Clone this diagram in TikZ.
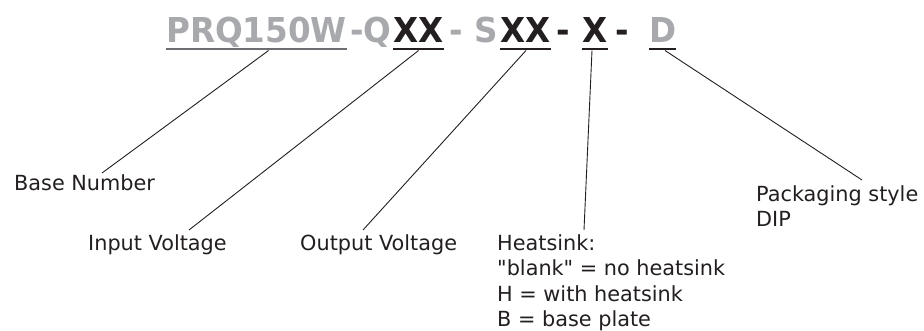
\documentclass[tikz,border=0pt]{standalone}
\usepackage{fontspec}
\setmainfont{DejaVu Sans}
\newfontfamily\headfont{DejaVu Sans}[FakeStretch=0.95]
\newcommand\straightdq{\XeTeXglyph\XeTeXglyphindex "quotedbl"\relax}
\definecolor{codegrey}{HTML}{A7A9AC}
\definecolor{codeblack}{HTML}{231F20}
\definecolor{ulgrey}{HTML}{6D6E71}
\begin{document}
\begin{tikzpicture}[x=1pt,y=-1pt,
  seg/.style={inner sep=0pt, anchor=base west, font=\headfont\bfseries\fontsize{34.3}{40}\selectfont},
  gr/.style={seg, text=codegrey},
  bk/.style={seg, text=codeblack},
  ul/.style={line width=2pt},
  lead/.style={line width=0.9pt, draw=codeblack},
  lab/.style={inner sep=0pt, font=\fontsize{20.8}{25.3}\selectfont, text=codeblack, align=left}]
\useasboundingbox[fill=white] (0,0) rectangle (924,331);
% part code
\node[gr] (pbase) at (166,43) {PRQ150W};
\node[gr] (pq) at (350,43) {-Q};
\node[bk] (pin) at (393,43) {XX};
\node[gr] (ps) at (449,43) {- S};
\node[bk] (pout) at (500,43) {XX};
\node[bk] (pd1) at (556,43) {-};
\node[bk] (pheat) at (582,43) {X};
\node[bk] (pd2) at (615,43) {-};
\node[gr] (ppack) at (649,43) {D};
% underlines
\draw[ul, ulgrey] ([yshift=-6.5pt]pbase.base west) -- ([yshift=-6.5pt]pbase.base east);
\draw[ul, codeblack] ([yshift=-6.5pt]pin.base west) -- ([yshift=-6.5pt]pin.base east);
\draw[ul, codeblack] ([yshift=-6.5pt]pout.base west) -- ([yshift=-6.5pt]pout.base east);
\draw[ul, codeblack] ([yshift=-6.5pt]pheat.base west) -- ([yshift=-6.5pt]pheat.base east);
\draw[ul, codeblack] ([yshift=-6.5pt]ppack.base west) -- ([yshift=-6.5pt]ppack.base east);
% labels
\node[lab, anchor=base west] (lbase) at (14,191) {Base Number};
\node[lab, anchor=base west] (lin) at (88,251) {Input Voltage};
\node[lab, anchor=base west] (lout) at (300,251) {Output Voltage};
\node[lab, anchor=north west] (lheat) at (497,234.5) {Heatsink:\\\straightdq blank\straightdq{} = no heatsink\\H = with heatsink\\B = base plate};
\node[lab, anchor=north west] (lpack) at (756,185.4) {Packaging style\\DIP};
% connector ends
\coordinate (sbase) at (268.6,50.5);
\coordinate (sin) at (418.6,50.5);
\coordinate (sout) at (526,50.5);
\coordinate (sheat) at (592,50.5);
\coordinate (spack) at (665,50.5);
\coordinate (ebase) at (102,173);
\coordinate (ein) at (189,230);
\coordinate (eout) at (363,230);
\coordinate (eheat) at (584,230);
\coordinate (epack) at (862,180);
\draw[lead] (sbase) -- (ebase);
\draw[lead] (sin) -- (ein);
\draw[lead] (sout) -- (eout);
\draw[lead] (sheat) -- (eheat);
\draw[lead] (spack) -- (epack);
\end{tikzpicture}
\end{document}
